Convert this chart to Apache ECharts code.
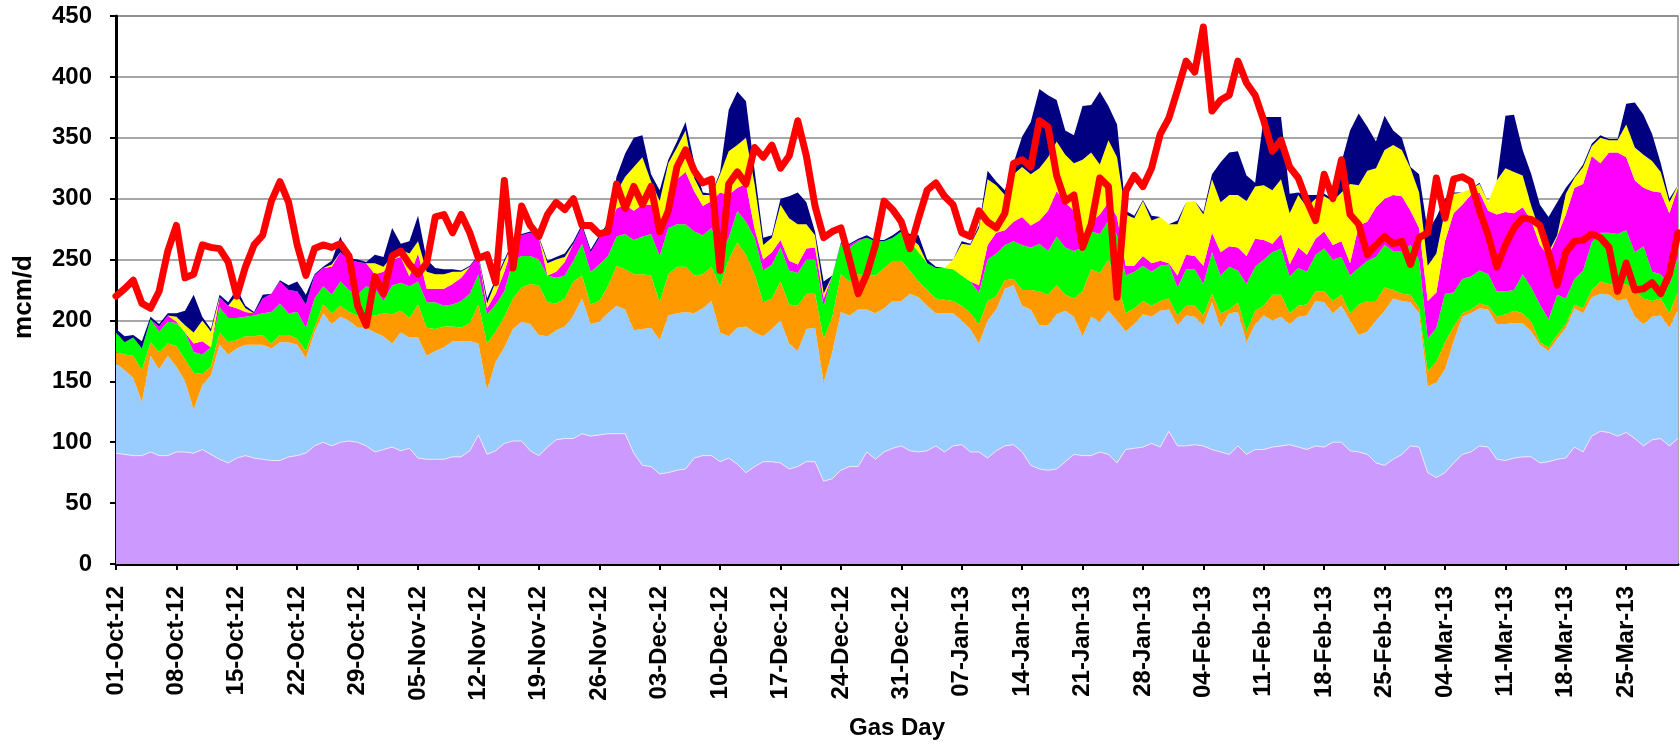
<!DOCTYPE html>
<html>
<head>
<meta charset="utf-8">
<script src="https://cdn.jsdelivr.net/npm/echarts@6/dist/echarts.min.js"></script>
<style>
html,body{margin:0;padding:0;background:#fff;}
#chart{width:1680px;height:745px;}
</style>
</head>
<body>
<div id="chart"></div>
<script>
// Category labels: gas days 01-Oct-12 .. 31-Mar-13
const months = [['Oct','12',31],['Nov','12',30],['Dec','12',31],['Jan','13',31],['Feb','13',28],['Mar','13',31]];
const dates = [];
months.forEach(function(m){ for(let d=1; d<=m[2]; d++){ dates.push((d<10?'0':'')+d+'-'+m[0]+'-'+m[1]); } });

const yTicks = [0,50,100,150,200,250,300,350,400,450];

// Stacked layers (bottom to top), mcm/d
const purple = [91,90,89,89,92,89,89,92,92,91,94,90,86,83,87,89,87,86,85,85,88,89,91,97,100,97,100,101,100,97,92,94,
96,93,95,87,86,86,86,88,88,93,106,90,93,99,101,101,93,89,96,102,103,103,107,105,106,107,107,107,91,81,80,74,75,
77,78,87,89,89,84,87,82,75,80,84,84,83,78,80,84,84,68,70,77,80,80,92,86,92,95,97,93,92,93,97,92,
97,98,92,92,87,93,97,98,92,81,78,77,78,84,90,89,89,92,90,83,94,95,96,99,96,109,97,97,98,97,94,92,90,
97,90,94,94,96,97,98,96,94,97,96,100,100,93,92,90,83,81,86,90,97,96,75,71,75,83,90,92,97,96,86,85,
87,88,88,83,84,86,87,96,92,105,109,108,105,108,103,97,102,103,97,103];

const lightBlue = [74,69,64,44,79,71,82,70,58,36,53,65,94,89,90,91,93,94,92,97,94,91,78,93,106,100,103,99,94,97,98,93,
85,97,91,99,85,89,92,95,95,90,75,53,73,79,92,98,104,99,91,90,92,101,111,92,93,99,105,102,101,112,114,110,129,
129,129,119,121,127,106,100,112,120,110,103,109,117,103,95,109,110,81,104,130,124,129,117,120,118,121,119,129,127,119,109,114,
109,102,101,89,113,116,129,131,120,128,118,119,127,124,113,98,114,107,118,117,97,102,109,104,112,100,99,107,105,99,121,102,116,
110,92,103,110,104,106,99,107,110,119,119,106,112,107,96,101,117,127,132,126,118,110,71,78,85,100,113,114,113,113,111,112,
111,110,103,97,91,99,107,114,114,114,113,113,111,110,100,100,101,101,97,106];

const orange = [9,13,18,26,11,14,10,17,18,30,9,7,10,10,7,7,7,8,4,6,6,5,6,4,7,9,9,7,10,9,14,19,
24,18,16,27,23,18,17,12,11,15,32,38,25,25,25,28,33,41,28,22,23,28,19,16,17,22,33,33,46,45,43,31,34,
38,37,31,28,28,38,63,70,59,48,28,25,32,32,37,29,28,36,29,31,28,29,28,31,33,33,33,19,13,13,12,11,
10,12,13,16,16,11,7,5,13,16,28,25,24,13,15,37,39,40,42,32,15,13,11,9,8,9,8,8,9,8,7,12,3,
8,9,11,8,21,18,9,9,9,8,9,10,9,6,25,25,16,19,7,6,6,4,12,17,22,12,3,3,4,3,6,8,
10,8,8,2,3,3,3,3,4,6,10,9,13,12,21,21,13,14,12,15];

const green = [16,10,15,18,19,17,18,19,22,17,16,16,21,20,18,16,17,18,26,26,18,22,19,24,15,15,20,18,17,25,22,10,
24,23,26,19,21,22,17,18,22,24,25,24,22,21,31,26,23,21,22,21,19,17,26,27,30,25,24,29,28,31,34,38,38,
35,35,36,32,32,27,18,26,27,30,26,28,28,28,27,28,28,27,34,25,28,27,31,28,22,19,24,24,24,22,25,26,
26,25,26,26,34,35,29,31,37,35,39,36,40,39,39,36,31,32,32,38,31,30,29,28,29,28,23,30,30,26,34,31,35,
26,39,36,38,35,38,30,31,27,30,35,34,31,31,30,33,36,35,32,35,41,40,27,28,40,28,28,27,27,26,21,19,
17,32,28,31,23,33,21,21,31,39,40,42,42,44,32,43,24,20,23,29];

const magenta = [0,0,0,0,0,4,5,1,0,7,11,0,8,10,8,4,2,12,15,18,19,17,19,19,15,23,24,25,27,19,12,24,
21,21,8,23,11,11,14,17,19,22,15,5,9,16,13,17,19,18,0,5,11,14,14,16,22,22,23,24,24,26,24,27,19,
37,43,33,24,22,50,35,19,31,7,9,10,6,8,7,9,10,6,0,0,2,1,0,0,0,0,0,0,0,0,0,0,
0,0,0,6,12,17,12,16,23,18,19,33,37,37,33,6,8,16,15,15,8,5,8,7,4,1,10,12,11,15,16,19,17,
19,23,23,16,7,12,10,17,14,13,14,12,13,10,35,32,41,38,46,45,28,26,31,29,43,65,61,67,64,52,63,65,
63,55,55,49,52,48,69,75,71,71,57,66,67,60,59,48,66,67,59,56];

const yellow = [0,0,0,0,0,0,0,4,6,9,17,13,0,0,11,3,0,0,0,0,0,0,0,0,0,2,0,0,0,0,9,4,
3,6,19,10,14,12,12,10,5,0,0,4,10,8,2,0,0,0,10,10,4,0,0,0,0,3,13,23,36,39,19,18,34,
26,34,11,9,5,15,36,35,38,37,12,12,29,35,33,20,10,4,0,0,0,0,0,0,0,0,0,3,6,0,0,0,
8,26,30,47,54,39,29,39,41,42,43,44,41,39,39,66,57,41,51,49,42,39,45,35,36,32,42,43,45,42,44,41,42,
43,45,43,45,44,45,42,43,39,33,29,36,40,65,33,42,32,40,41,38,35,29,29,32,25,16,10,5,7,7,28,36,
34,26,12,11,3,1,17,8,14,8,21,10,10,27,27,27,25,17,9,2];

const navy = [3,5,2,6,2,2,2,3,12,31,3,2,2,3,5,2,1,3,0,1,4,8,8,1,1,3,13,1,2,1,7,8,
23,5,10,21,10,5,4,2,1,1,1,4,2,2,1,1,1,1,2,2,3,2,2,2,2,2,13,19,24,18,6,9,3,
5,7,13,2,1,2,34,44,30,11,6,2,5,18,26,18,3,10,0,1,1,1,2,1,1,2,2,3,8,3,1,0,
0,2,1,2,7,3,4,9,25,43,65,51,34,20,23,44,39,60,28,27,3,2,1,4,0,0,3,0,0,2,4,33,35,
36,21,3,56,60,51,16,2,10,3,2,2,25,44,59,36,22,28,12,10,1,15,28,30,10,1,0,0,1,0,0,43,
47,21,26,22,29,27,5,1,2,2,2,1,1,17,37,33,22,7,3,0];

// Red line (demand), mcm/d
const redLine = [220,226,233,214,210,224,257,278,235,238,262,260,259,248,220,244,262,270,298,314,297,262,237,259,262,260,263,253,212,196,236,222,
253,257,246,238,247,285,287,272,287,272,251,254,231,315,243,294,278,269,287,297,291,300,278,278,271,273,312,292,310,295,310,273,290,
326,340,323,313,316,241,312,322,312,342,334,344,325,335,364,335,294,268,273,276,250,222,238,262,298,291,281,259,284,307,313,302,
295,272,269,290,281,276,288,329,332,326,364,359,319,298,303,260,279,317,310,219,306,319,310,325,353,366,389,413,404,441,372,381,385,
413,395,385,364,339,348,326,317,298,282,320,300,332,287,279,254,262,269,263,265,246,268,272,317,284,316,318,314,290,270,244,262,
276,284,283,278,256,229,256,265,266,271,268,260,224,247,225,226,231,222,238,272];

const layers = [
  {name:'Layer 1', data:purple,    color:'#CC99FF'},
  {name:'Layer 2', data:lightBlue, color:'#99CCFF'},
  {name:'Layer 3', data:orange,    color:'#FF9900'},
  {name:'Layer 4', data:green,     color:'#00FF00'},
  {name:'Layer 5', data:magenta,   color:'#FF00FF'},
  {name:'Layer 6', data:yellow,    color:'#FFFF00'},
  {name:'Layer 7', data:navy,      color:'#000080'}
];

const FONT = 'Liberation Sans, Arial, sans-serif';
const chart = echarts.init(document.getElementById('chart'), null, {renderer:'canvas'});

const series = layers.map(function(l, i){
  return {
    name:l.name, type:'line', stack:'supply', data:l.data,
    showSymbol:false, symbol:'none', smooth:false,
    lineStyle: i===0 ? {width:1, color:'#EEE6FF'} : {width:0, color:l.color},
    areaStyle:{color:l.color, opacity:1},
    itemStyle:{color:l.color},
    z:2
  };
});
series.push({
  name:'Demand', type:'line', data:redLine, showSymbol:false, symbol:'none',
  lineStyle:{color:'#FF0000', width:7, join:'round', cap:'round'},
  itemStyle:{color:'#FF0000'}, z:5
});

chart.setOption({
  animation:false,
  backgroundColor:'#ffffff',
  grid:{left:116, right:2, top:16, bottom:180, show:true, borderColor:'#8a8a8a', borderWidth:1.5, backgroundColor:'transparent'},
  xAxis:{
    type:'category', data:dates, boundaryGap:false,
    axisLine:{show:true, onZero:false, lineStyle:{color:'#000', width:3}},
    axisTick:{show:true, interval:6, length:6, inside:false, lineStyle:{color:'#000', width:2}},
    axisLabel:{interval:6, rotate:90, margin:22, fontSize:24, fontWeight:'bold', color:'#000', fontFamily:FONT},
    splitLine:{show:false},
    name:'Gas Day', nameLocation:'middle', nameGap:152,
    nameTextStyle:{fontSize:24, fontWeight:'bold', color:'#000', fontFamily:FONT}
  },
  yAxis:{
    type:'value', min:yTicks[0], max:yTicks[yTicks.length-1], interval:50,
    axisLine:{show:true, lineStyle:{color:'#000', width:3}},
    axisTick:{show:true, length:6, lineStyle:{color:'#000', width:2}},
    axisLabel:{fontSize:24, fontWeight:'bold', color:'#000', margin:24, fontFamily:FONT},
    splitLine:{show:true, lineStyle:{color:'#8a8a8a', width:1.5}}
  },
  graphic:[{
    type:'text', x:24, y:297, rotation:Math.PI/2,
    style:{text:'mcm/d', font:'bold 26px '+FONT, fill:'#000', textAlign:'center', textVerticalAlign:'middle'}
  }],
  series:series
});
</script>
</body>
</html>
